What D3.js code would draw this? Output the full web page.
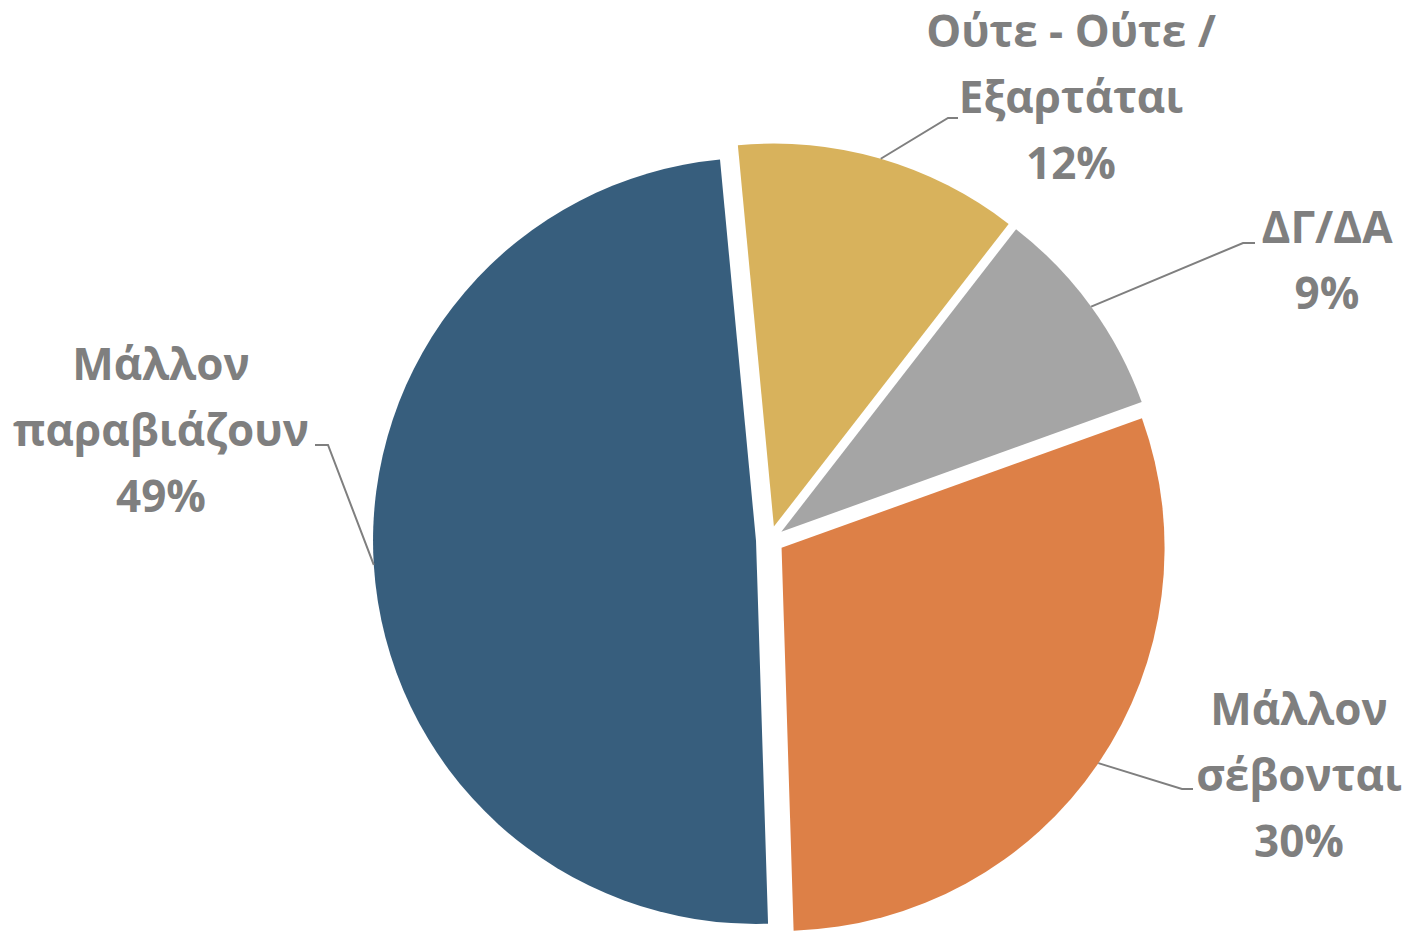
<!DOCTYPE html>
<html>
<head>
<meta charset="utf-8">
<script src="https://cdn.jsdelivr.net/npm/d3@7"></script>
<style>
	body { margin: 0; background: #fff; }
	svg { display: block; }
	.label { font-family: "Open Sans", "Noto Sans", sans-serif; font-weight: bold; fill: #7f7f7f; }
</style>
</head>
<body>
<svg id="chart" width="1402" height="936"></svg>
<script>
// slices in drawing order (clockwise from just left of 12 o'clock)
var categories = ["Ούτε - Ούτε / Εξαρτάται", "ΔΓ/ΔΑ", "Μάλλον σέβονται", "Μάλλον παραβιάζουν"];
var values = [12, 9, 30, 49];
var labelLines = [["Ούτε - Ούτε /", "Εξαρτάται"], ["ΔΓ/ΔΑ"], ["Μάλλον", "σέβονται"], ["Μάλλον", "παραβιάζουν"]];
var colors = ["#d8b25c", "#a5a5a5", "#dd8047", "#375e7d"];

(function () {
	var svg = d3.select("#chart");
	var cx = 770, cy = 540, radius = 383, explode = 14;
	var lineGap = 66;

	// manual label placement (text centre x, first baseline y, leader elbow, leader end)
	var layout = [
		{ x: 1071, y: 47, elbow: [948, 118], end: [958, 118] },
		{ x: 1327, y: 243, elbow: [1243, 243], end: [1255, 243] },
		{ x: 1299, y: 725, elbow: [1182, 789], end: [1193, 789] },
		{ x: 161, y: 380, elbow: [328, 445], end: [315, 445] }
	];

	var data = categories.map(function (c, i) {
		return { name: c, value: values[i], lines: labelLines[i], color: colors[i], pos: layout[i] };
	});

	var pie = d3.pie()
		.sort(null)
		.value(function (d) { return d.value; })
		.startAngle(-5.4 * Math.PI / 180)
		.endAngle(2 * Math.PI - 5.4 * Math.PI / 180);

	var arc = d3.arc().innerRadius(0).outerRadius(radius);

	var arcs = pie(data);

	function offset(a) {
		var mid = (a.startAngle + a.endAngle) / 2;
		return [Math.sin(mid) * explode, -Math.cos(mid) * explode];
	}

	var g = svg.append("g").attr("transform", "translate(" + cx + "," + cy + ")");

	g.selectAll(".slice")
		.data(arcs)
		.enter().append("path")
		.attr("class", "slice")
		.attr("transform", function (d) { var o = offset(d); return "translate(" + o[0] + "," + o[1] + ")"; })
		.attr("fill", function (d) { return d.data.color; })
		.attr("d", arc);

	// leader lines from the outer edge at each slice's middle angle
	g.selectAll(".leader")
		.data(arcs)
		.enter().append("polyline")
		.attr("class", "leader")
		.attr("fill", "none")
		.attr("stroke", "#7f7f7f")
		.attr("stroke-width", 2)
		.attr("points", function (d) {
			var mid = (d.startAngle + d.endAngle) / 2;
			var o = offset(d);
			var sx = o[0] + Math.sin(mid) * radius, sy = o[1] - Math.cos(mid) * radius;
			var p = d.data.pos;
			return [[sx, sy], [p.elbow[0] - cx, p.elbow[1] - cy], [p.end[0] - cx, p.end[1] - cy]].join(" ");
		});

	var labels = svg.selectAll(".label")
		.data(data)
		.enter().append("text")
		.attr("class", "label")
		.attr("text-anchor", "middle")
		.style("font-size", "44px");

	labels.each(function (d) {
		var t = d3.select(this);
		var lines = d.lines.concat([d.value + "%"]);
		lines.forEach(function (s, i) {
			t.append("tspan")
				.attr("x", d.pos.x)
				.attr("y", d.pos.y + i * lineGap)
				.text(s);
		});
	});
})();
</script>
</body>
</html>
